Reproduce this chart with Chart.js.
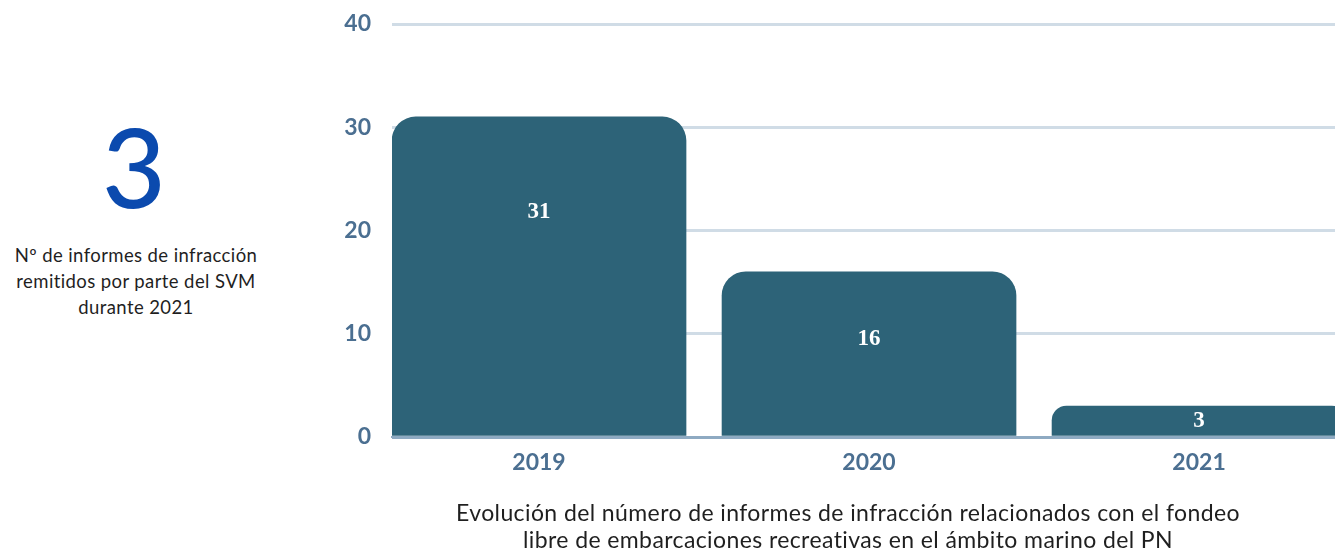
<!DOCTYPE html>
<html>
<head>
<meta charset="utf-8">
<script src="https://cdn.jsdelivr.net/npm/chart.js@4"></script>
<style>
  html, body { margin: 0; padding: 0; background: #fff; overflow: hidden; }
  body { width: 1335px; height: 553px; position: relative; font-family: Lato, sans-serif; }
  #kpi { position: absolute; left: 34px; width: 200px; top: 100px; text-align: center;
         font-size: 110px; line-height: 130px; color: #0b4aae; font-weight: 500; }
  #kpi-text { position: absolute; left: 0; width: 272px; top: 242px; text-align: center;
              font-size: 18.5px; line-height: 26px; color: #1f1f1f; letter-spacing: 0.4px; }
  #caption { position: absolute; left: 348px; width: 1000px; top: 499px; text-align: center;
             font-size: 23px; line-height: 27px; color: #1f1f1f; letter-spacing: 0.4px; }
  #chart-box { position: absolute; left: 300px; top: 0; width: 1035px; height: 553px; }
</style>
</head>
<body>
<div id="kpi">3</div>
<div id="kpi-text">Nº de informes de infracción<br>remitidos por parte del SVM<br>durante 2021</div>
<div id="chart-box"><canvas id="chart"></canvas></div>
<div id="caption">Evolución del número de informes de infracción relacionados con el fondeo<br>libre de embarcaciones recreativas en el ámbito marino del PN</div>

<script>
// data
const years = [2019, 2020, 2021];
const informes = [31, 16, 3];
const yTicks = [0, 10, 20, 30, 40];

const barColor = '#2d6378';
const tickColor = '#4b6f91';

// white numbers inside the bars (fraction of bar height from the top)
const valueLabels = {
    id: 'valueLabels',
    afterDatasetsDraw(chart, args, opts) {
        const ctx = chart.ctx;
        const meta = chart.getDatasetMeta(0);
        ctx.save();
        ctx.fillStyle = '#ffffff';
        ctx.font = 'bold 23px "Liberation Serif", serif';
        ctx.textAlign = 'center';
        ctx.textBaseline = 'middle';
        meta.data.forEach((bar, i) => {
            const top = bar.y;
            const bottom = bar.base;
            const y = top + (bottom - top) * opts.pos[i];
            ctx.fillText(String(informes[i]), bar.x, y);
        });
        ctx.restore();
    }
};

new Chart(document.getElementById('chart'), {
    type: 'bar',
    data: {
        labels: years,
        datasets: [{
            data: informes,
            backgroundColor: barColor,
            barThickness: 294,
            borderRadius: 24,
            borderSkipped: 'start'
        }]
    },
    options: {
        responsive: true,
        maintainAspectRatio: false,
        animation: false,
        layout: { padding: { top: 24, right: 0, left: 0, bottom: 0 } },
        scales: {
            x: {
                type: 'linear',
                offset: false,
                min: years[0] - 0.4455,
                max: years[years.length - 1] + 0.412,
                grid: { display: false, drawTicks: false, offset: false },
                border: { display: true, color: '#8eaac2', width: 2 },
                afterBuildTicks: (s) => {
                    s.ticks = years.map(v => ({ value: v }));
                },
                afterFit: (s) => {
                    s.height = 116;
                    s.paddingLeft = 0;
                    s.paddingRight = 0;
                },
                ticks: {
                    color: tickColor,
                    font: { family: 'Lato', size: 23, weight: 'bold' },
                    padding: 12,
                    autoSkip: false,
                    maxRotation: 0,
                    callback: (v) => String(v)
                }
            },
            y: {
                min: 0,
                max: 40,
                afterBuildTicks: (s) => {
                    s.ticks = yTicks.map(v => ({ value: v }));
                },
                afterFit: (s) => {
                    s.width = 92;
                    s.paddingTop = 0;
                    s.paddingBottom = 0;
                },
                border: { display: false },
                grid: {
                    drawTicks: false,
                    lineWidth: 3,
                    color: (c) => c.tick && c.tick.value === 0 ? '#8eaac2' : '#d0dce6'
                },
                ticks: {
                    color: tickColor,
                    font: { family: 'Lato', size: 23, weight: 'bold' },
                    padding: 21
                }
            }
        },
        plugins: {
            legend: { display: false },
            tooltip: { enabled: false },
            valueLabels: { pos: [0.3, 0.41, 0.5] }
        }
    },
    plugins: [valueLabels]
});
</script>
</body>
</html>
